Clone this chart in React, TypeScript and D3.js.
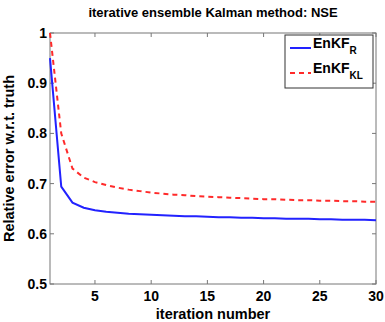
import * as d3 from "d3";

const iterations = d3.range(1, 31);
const enkfR = [0.95, 0.694, 0.662, 0.652, 0.647, 0.644, 0.642, 0.64, 0.639, 0.638, 0.637, 0.636, 0.635, 0.635, 0.634, 0.633, 0.633, 0.632, 0.632, 0.631, 0.631, 0.63, 0.63, 0.63, 0.629, 0.629, 0.628, 0.628, 0.628, 0.627];
const enkfKL = [1.0, 0.8, 0.73, 0.712, 0.703, 0.697, 0.692, 0.688, 0.685, 0.682, 0.68, 0.678, 0.677, 0.675, 0.674, 0.673, 0.672, 0.671, 0.67, 0.669, 0.669, 0.668, 0.667, 0.667, 0.666, 0.666, 0.665, 0.665, 0.664, 0.664];
const xTicks = [5, 10, 15, 20, 25, 30];
const yTicks = [0.5, 0.6, 0.7, 0.8, 0.9, 1];

const W = 385;
const H = 322;
const m = { left: 50, right: 9, top: 33, bottom: 38 };
const font = "'Liberation Sans', Arial, sans-serif";

export default function App() {
  const x = d3.scaleLinear().domain([1, 30]).range([m.left, W - m.right]);
  const y = d3.scaleLinear().domain([0.5, 1]).range([H - m.bottom, m.top]);
  const line = d3
    .line<number>()
    .x((_, i) => x(iterations[i]))
    .y((d) => y(d));
  const x0 = x.range()[0], x1 = x.range()[1];
  const y0 = y.range()[0], y1 = y.range()[1];
  const tl = 4;

  return (
    <svg width={W} height={H} style={{ position: "absolute", left: 0, top: 0, background: "#fff" }} fontFamily={font}>
      <text x={(x0 + x1) / 2} y={17} textAnchor="middle" fontSize={13} fontWeight="bold">
        iterative ensemble Kalman method: NSE
      </text>
      <rect x={x0} y={y1} width={x1 - x0} height={y0 - y1} fill="none" stroke="#777" strokeWidth={1} />
      {xTicks.map((t) => (
        <g key={"x" + t}>
          <line x1={x(t)} x2={x(t)} y1={y0} y2={y0 - tl} stroke="#777" />
          <line x1={x(t)} x2={x(t)} y1={y1} y2={y1 + tl} stroke="#777" />
          <text x={x(t)} y={y0 + 17} textAnchor="middle" fontSize={14} fontWeight="bold">
            {t}
          </text>
        </g>
      ))}
      {yTicks.map((t) => (
        <g key={"y" + t}>
          <line x1={x0} x2={x0 + tl} y1={y(t)} y2={y(t)} stroke="#777" />
          <line x1={x1} x2={x1 - tl} y1={y(t)} y2={y(t)} stroke="#777" />
          <text x={x0 - 3} y={y(t) + 5} textAnchor="end" fontSize={14} fontWeight="bold">
            {t}
          </text>
        </g>
      ))}
      <text x={(x0 + x1) / 2} y={H - 3} textAnchor="middle" fontSize={14.5} fontWeight="bold">
        iteration number
      </text>
      <text
        transform={`translate(14,${(y0 + y1) / 2}) rotate(-90)`}
        textAnchor="middle"
        fontSize={14.5}
        fontWeight="bold"
      >
        Relative error w.r.t. truth
      </text>
      <path d={line(enkfKL) ?? ""} fill="none" stroke="#ff2a2a" strokeWidth={2} strokeDasharray="5,4" />
      <path d={line(enkfR) ?? ""} fill="none" stroke="#2222ff" strokeWidth={2} />
      <g>
        <rect x={285} y={35} width={88} height={53} fill="#fff" stroke="#333" strokeWidth={1} />
        <line x1={290} x2={311} y1={48} y2={48} stroke="#2222ff" strokeWidth={2} />
        <text x={313} y={48} fontSize={14} fontWeight="bold">
          EnKF<tspan fontSize={10} dy={6}>R</tspan>
        </text>
        <line x1={290} x2={311} y1={73} y2={73} stroke="#ff2a2a" strokeWidth={2} strokeDasharray="5,4" />
        <text x={313} y={73} fontSize={14} fontWeight="bold">
          EnKF<tspan fontSize={10} dy={6}>KL</tspan>
        </text>
      </g>
    </svg>
  );
}
